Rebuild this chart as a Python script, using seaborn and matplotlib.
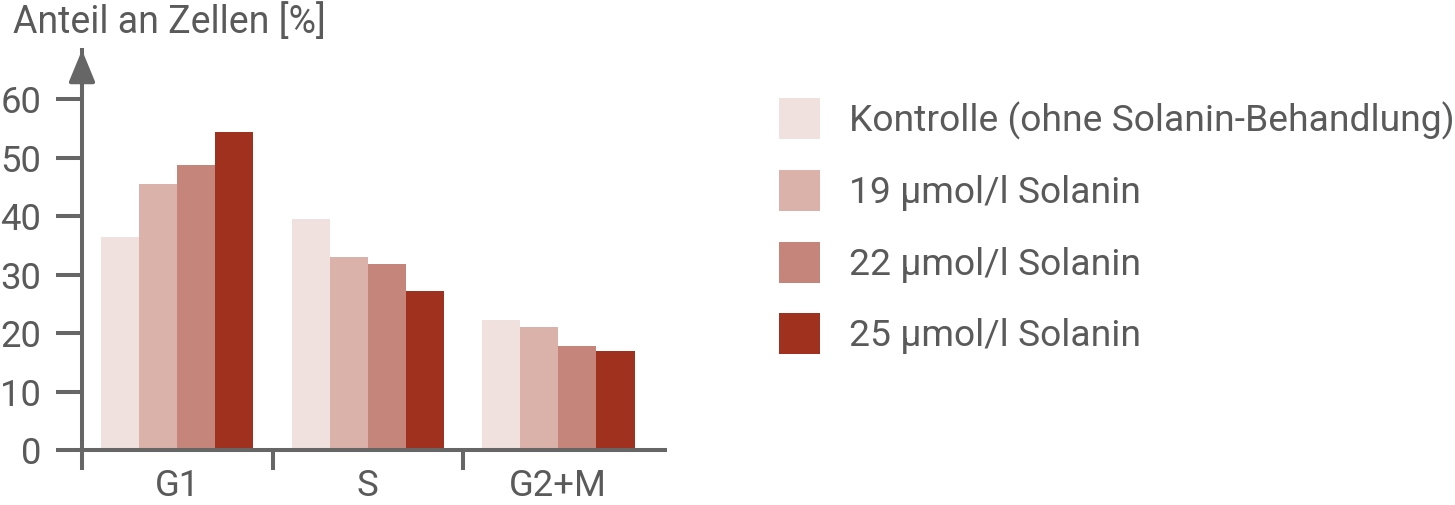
import pandas as pd
import seaborn as sns
import matplotlib.pyplot as plt
from matplotlib.patches import Patch
from matplotlib.ticker import FixedLocator

# values
phases = ["G1", "S", "G2+M"]
groups = ["Kontrolle (ohne Solanin-Behandlung)", "19 µmol/l Solanin",
          "22 µmol/l Solanin", "25 µmol/l Solanin"]
kontrolle = [36.5, 39.5, 22.2]
sol_19 = [45.5, 33.0, 21.0]
sol_22 = [48.8, 31.8, 17.7]
sol_25 = [54.4, 27.2, 17.0]
y_ticks = [0, 10, 20, 30, 40, 50, 60]
title = "Anteil an Zellen [%]"

colors = ["#f0e0de", "#dbb2aa", "#c5857a", "#a1311f"]
text_col = "#5a5a5a"
line_col = "#666666"


def main():
    rows = []
    for grp, vals in zip(groups, [kontrolle, sol_19, sol_22, sol_25]):
        for ph, v in zip(phases, vals):
            rows.append({"phase": ph, "group": grp, "value": v})
    df = pd.DataFrame(rows)

    sns.set_theme(style="white")
    plt.rcParams["font.family"] = ["Roboto", "DejaVu Sans"]

    W, H = 1455, 505
    fig = plt.figure(figsize=(W / 100, H / 100), dpi=100)
    ax = fig.add_axes([82 / W, 55 / H, 583 / W, 400 / H])

    sns.barplot(data=df, x="phase", y="value", hue="group", order=phases,
                hue_order=groups, palette=colors, saturation=1, width=0.8,
                edgecolor="none", linewidth=0, ax=ax, legend=False)

    ax.set_xlim(-0.5, 2.56)
    ax.set_ylim(0, 68.4)
    ax.set_xlabel("")
    ax.set_ylabel("")

    for side in ["top", "right"]:
        ax.spines[side].set_visible(False)
    for side in ["left", "bottom"]:
        ax.spines[side].set_color(line_col)
        ax.spines[side].set_linewidth(2.9)

    ax.set_yticks(y_ticks)
    ax.tick_params(axis="y", length=18.7, width=2.9, color=line_col,
                   labelsize=26.3, labelcolor=text_col, pad=10.5, left=True)
    ax.tick_params(axis="x", which="major", length=0, labelsize=26.3,
                   labelcolor=text_col, pad=13)
    ax.xaxis.set_minor_locator(FixedLocator([-0.5, 0.5, 1.5]))
    ax.tick_params(axis="x", which="minor", length=14.4, width=2.9,
                   color=line_col, bottom=True, direction="out")

    # arrow head on the y axis
    ax.annotate("", xy=(-0.5, 1), xycoords=("data", "axes fraction"),
                xytext=(-0.5, 0.9), textcoords=("data", "axes fraction"),
                arrowprops=dict(arrowstyle="-|>,head_length=0.97,head_width=0.4",
                                mutation_scale=20, color=line_col, lw=2.9,
                                shrinkA=0, shrinkB=0),
                annotation_clip=False)

    fig.text(13 / W, 1 - 33 / H, title, fontsize=27, color=text_col,
             ha="left", va="baseline")

    handles = [Patch(facecolor=c, edgecolor="none") for c in colors]
    fig.legend(handles, groups, loc="upper left",
               bbox_to_anchor=(779 / W, 1 - 98 / H), bbox_transform=fig.transFigure,
               frameon=False, fontsize=26.8, labelcolor=text_col,
               handlelength=1.1, handleheight=1.32, handletextpad=0.78,
               labelspacing=0.82, borderpad=0, borderaxespad=0)

    fig.savefig("out.png", dpi=100)


if __name__ == "__main__":
    main()
